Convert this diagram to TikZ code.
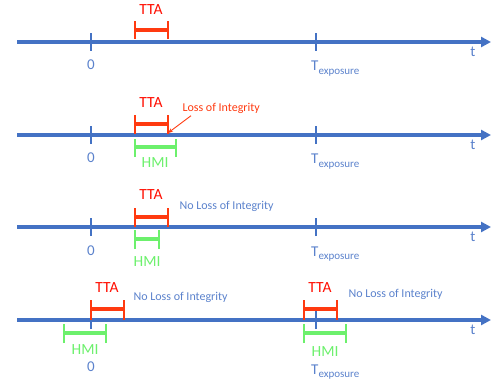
\documentclass[tikz,border=0pt]{standalone}
\usepackage{fontspec}
\setmainfont{Carlito}
\usetikzlibrary{arrows.meta}
\definecolor{axisblue}{HTML}{4472C4}
\definecolor{labelblue}{HTML}{5B82CC}
\definecolor{ttared}{HTML}{FF3A10}
\definecolor{hmigreen}{HTML}{6CF06C}
\tikzset{
	axis/.style={axisblue,line width=3.4pt,-{Triangle[length=10pt,width=10pt]}},
	tick/.style={axisblue,line width=1.4pt},
	ttabar/.style={ttared,line width=3.4pt},
	hmibar/.style={hmigreen,line width=3.4pt},
	ttaend/.style={ttared,line width=1.6pt},
	hmiend/.style={hmigreen,line width=1.6pt},
	ttalbl/.style={text=red!90!orange,font=\fontsize{15.5}{16}\selectfont},
	hmilbl/.style={text=hmigreen,font=\fontsize{15.5}{16}\selectfont},
	axlbl/.style={text=labelblue,font=\fontsize{15}{15}\selectfont},
	note/.style={anchor=west,font=\fontsize{12}{12}\selectfont}
}
\newcommand{\Texp}{T\raisebox{-0.45ex}{\fontsize{11}{11}\selectfont exposure}}
\begin{document}
\begin{tikzpicture}[x=1pt,y=-1pt,line join=round]
		\useasboundingbox (0,0) rectangle (495,385);
		% first row
		\path
		(17,42) coordinate (S1)
		(491,42) coordinate (E1)
		(91,42) coordinate (Z1)
		(316,42) coordinate (X1)
		(135,30) coordinate (A1)
		(168,30) coordinate (B1)
		;
		% second row
		\path
		(17,135) coordinate (S2)
		(491,135) coordinate (E2)
		(91,135) coordinate (Z2)
		(316,135) coordinate (X2)
		(135,124) coordinate (A2)
		(168,124) coordinate (B2)
		(135,147) coordinate (C2)
		(176,147) coordinate (D2)
		(168,133) coordinate (L2)
		;
		% third row
		\path
		(17,227) coordinate (S3)
		(491,227) coordinate (E3)
		(91,227) coordinate (Z3)
		(316,227) coordinate (X3)
		(135,217) coordinate (A3)
		(168,217) coordinate (B3)
		(135,239) coordinate (C3)
		(159,239) coordinate (D3)
		;
		% fourth row
		\path
		(17,320) coordinate (S4)
		(491,320) coordinate (E4)
		(91,320) coordinate (Z4)
		(316,320) coordinate (X4)
		(91,309) coordinate (A4)
		(124,309) coordinate (B4)
		(64,333) coordinate (C4)
		(106,333) coordinate (D4)
		(304,309) coordinate (F4)
		(337,309) coordinate (G4)
		(304,333) coordinate (H4)
		(346,333) coordinate (K4)
		;
		\draw[axis] (S1)--(E1);
		\draw[axis] (S2)--(E2);
		\draw[axis] (S3)--(E3);
		\draw[axis] (S4)--(E4);
		\draw[tick]
		([yshift=-9pt]Z1)--([yshift=9pt]Z1) ([yshift=-9pt]X1)--([yshift=9pt]X1)
		([yshift=-9pt]Z2)--([yshift=9pt]Z2) ([yshift=-9pt]X2)--([yshift=9pt]X2)
		([yshift=-9pt]Z3)--([yshift=9pt]Z3) ([yshift=-9pt]X3)--([yshift=9pt]X3)
		([yshift=-9pt]Z4)--([yshift=9pt]Z4) ([yshift=-9pt]X4)--([yshift=9pt]X4)
		;
		\draw[hmibar] (C2)--(D2) (C3)--(D3) (C4)--(D4) (H4)--(K4);
		\draw[hmiend]
		([yshift=-10pt]C2)--([yshift=8pt]C2) ([yshift=-10pt]D2)--([yshift=8pt]D2)
		([yshift=-10pt]C3)--([yshift=9pt]C3) ([yshift=-10pt]D3)--([yshift=9pt]D3)
		([yshift=-10pt]C4)--([yshift=9pt]C4) ([yshift=-10pt]D4)--([yshift=9pt]D4)
		([yshift=-10pt]H4)--([yshift=9pt]H4) ([yshift=-10pt]K4)--([yshift=9pt]K4)
		;
		\draw[ttabar] (A1)--(B1) (A2)--(B2) (A3)--(B3) (A4)--(B4) (F4)--(G4);
		\draw[ttaend]
		([yshift=-9pt]A1)--([yshift=9pt]A1) ([yshift=-9pt]B1)--([yshift=9pt]B1)
		([yshift=-10pt]A2)--([yshift=9pt]A2) ([yshift=-10pt]B2)--([yshift=9pt]B2)
		([yshift=-10pt]A3)--([yshift=9pt]A3) ([yshift=-10pt]B3)--([yshift=9pt]B3)
		([yshift=-11pt]A4)--([yshift=9pt]A4) ([yshift=-11pt]B4)--([yshift=9pt]B4)
		([yshift=-11pt]F4)--([yshift=9pt]F4) ([yshift=-11pt]G4)--([yshift=9pt]G4)
		;
		% labels
		\path
		(151,10) node[ttalbl] (tta1) {TTA}
		(151,103) node[ttalbl] (tta2) {TTA}
		(151,195) node[ttalbl] (tta3) {TTA}
		(107,288) node[ttalbl] (tta4) {TTA}
		(320,288) node[ttalbl] (tta5) {TTA}
		(155,163) node[hmilbl] (hmi2) {HMI}
		(147,262) node[hmilbl] (hmi3) {HMI}
		(85,350) node[hmilbl] (hmi4) {HMI}
		(325,352) node[hmilbl] (hmi5) {HMI}
		(91,65) node[axlbl] (zero1) {0}
		(91,158) node[axlbl] (zero2) {0}
		(91,251) node[axlbl] (zero3) {0}
		(91,367) node[axlbl] (zero4) {0}
		(311,71) node[axlbl,anchor=base west,inner sep=0pt] (exp1) {\Texp}
		(311,164) node[axlbl,anchor=base west,inner sep=0pt] (exp2) {\Texp}
		(311,256) node[axlbl,anchor=base west,inner sep=0pt] (exp3) {\Texp}
		(311,374) node[axlbl,anchor=base west,inner sep=0pt] (exp4) {\Texp}
		(473,52) node[axlbl] (t1) {t}
		(473,145) node[axlbl] (t2) {t}
		(473,237) node[axlbl] (t3) {t}
		(473,330) node[axlbl] (t4) {t}
		(179,108) node[note,text=ttared] (loss) {Loss of Integrity}
		(176,206) node[note,text=labelblue] (noloss3) {No Loss of Integrity}
		(130,297) node[note,text=labelblue] (noloss4) {No Loss of Integrity}
		(345,294) node[note,text=labelblue] (noloss5) {No Loss of Integrity}
		;
		\draw[ttared,line width=0.9pt,-{Stealth[length=5pt,width=4pt]}] ([xshift=12pt,yshift=1pt]loss.south west)--(L2);
		\end{tikzpicture}
\end{document}
